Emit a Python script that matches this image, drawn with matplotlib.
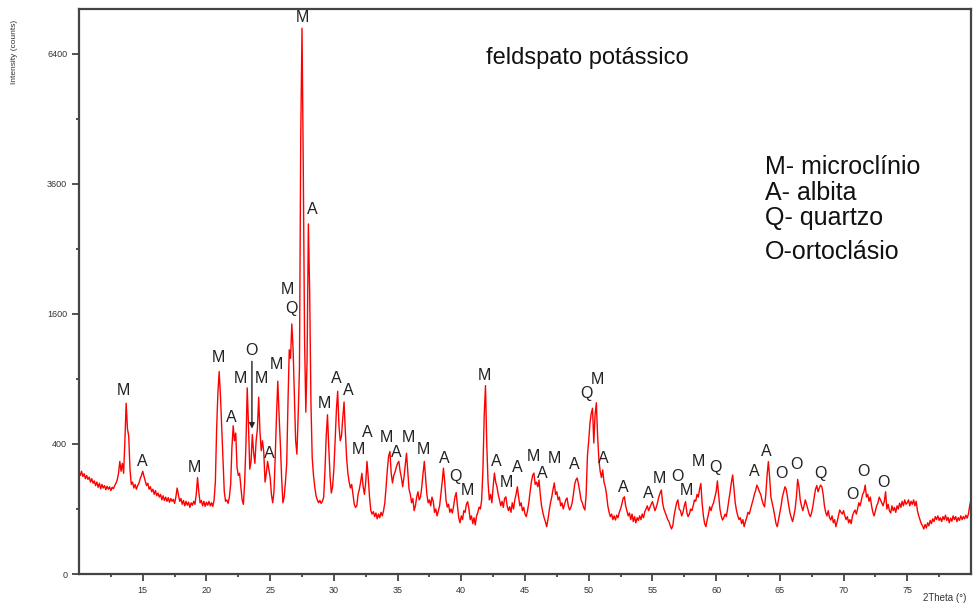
import numpy as np
import matplotlib.pyplot as plt

plt.rcParams['font.family'] = ['Liberation Sans', 'DejaVu Sans']

# diffractogram, 0.1 degree step from 10 to 80 (2theta), counts
counts_10 = [245, 230, 250, 225, 238, 215, 230, 212, 222, 200,
             215, 195, 205, 185, 200, 178, 195, 172, 190, 175,
             185, 168, 182, 170, 180, 165, 178, 172, 185, 195,
             210, 240, 300, 250, 290, 240, 420, 690, 500, 450,
             260, 190, 200, 175, 190, 170, 185, 195, 215, 230,
             250, 225, 205, 185, 195, 170, 180, 160, 170, 150,
             165, 145, 155, 140, 150, 130, 145, 128, 140, 125,
             138, 122, 135, 125, 132, 118, 140, 175, 150, 125,
             135, 115, 128, 110, 125, 112, 122, 105, 120, 112,
             125, 115, 150, 220, 160, 120, 128, 110, 125, 108]
counts_20 = [122, 112, 125, 110, 120, 108, 130, 200, 500, 780,
             970, 750, 500, 300, 160, 125, 130, 118, 140, 190,
             380, 520, 420, 470, 270, 230, 240, 180, 130, 115,
             200, 400, 820, 520, 260, 300, 460, 350, 290, 420,
             500, 740, 480, 360, 420, 350, 200, 240, 300, 260,
             220, 150, 120, 160, 330, 600, 880, 600, 400, 220,
             120, 140, 200, 290, 700, 1190, 1100, 1480, 1200, 750,
             420, 340, 600, 1000, 4500, 7050, 3900, 1300, 620, 1100,
             2900, 1900, 700, 320, 230, 180, 145, 130, 120, 128,
             118, 125, 140, 250, 450, 600, 380, 230, 155, 180]
counts_30 = [260, 420, 640, 790, 520, 420, 450, 580, 700, 480,
             320, 240, 200, 175, 190, 150, 115, 105, 110, 150,
             170, 200, 240, 180, 150, 200, 300, 220, 140, 95,
             85, 92, 78, 88, 72, 85, 75, 90, 80, 95,
             120, 180, 260, 330, 355, 240, 196, 230, 245, 270,
             290, 300, 250, 220, 180, 220, 280, 345, 250, 170,
             150, 120, 135, 95, 110, 140, 160, 130, 140, 180,
             240, 300, 220, 150, 120, 130, 110, 140, 125, 90,
             100, 80, 95, 110, 150, 200, 265, 200, 130, 106,
             115, 90, 100, 88, 110, 140, 157, 110, 75, 62]
counts_40 = [80, 70, 95, 90, 115, 124, 100, 70, 80, 60,
             75, 57, 80, 90, 106, 100, 130, 260, 600, 840,
             400, 200, 130, 150, 120, 180, 241, 200, 180, 150,
             130, 110, 125, 105, 135, 141, 110, 95, 107, 90,
             120, 100, 130, 150, 180, 140, 110, 120, 95, 105,
             85, 78, 95, 120, 160, 200, 230, 241, 190, 200,
             180, 209, 150, 110, 90, 75, 65, 53, 70, 95,
             120, 140, 170, 196, 150, 160, 130, 140, 110, 120,
             100, 115, 130, 137, 110, 97, 105, 120, 150, 190,
             210, 218, 190, 160, 130, 120, 105, 97, 150, 330]
counts_50 = [420, 540, 610, 650, 406, 600, 694, 450, 308, 250,
             220, 256, 200, 180, 150, 110, 90, 78, 85, 70,
             80, 69, 82, 75, 90, 100, 115, 135, 141, 110,
             95, 80, 88, 70, 85, 65, 78, 62, 75, 68,
             80, 70, 85, 75, 92, 100, 110, 95, 105, 115,
             124, 110, 95, 105, 120, 140, 155, 167, 120, 100,
             90, 80, 70, 65, 55, 48, 55, 80, 100, 120,
             130, 100, 95, 80, 90, 110, 124, 90, 78, 85,
             100, 95, 110, 130, 125, 150, 140, 170, 194, 120,
             80, 60, 53, 70, 85, 107, 95, 110, 120, 140]
counts_60 = [160, 205, 150, 100, 80, 69, 75, 85, 78, 100,
             130, 160, 200, 232, 170, 120, 95, 80, 70, 75,
             60, 70, 53, 65, 75, 90, 85, 100, 115, 130,
             150, 165, 187, 175, 160, 150, 130, 115, 107, 150,
             230, 299, 220, 140, 120, 100, 80, 60, 53, 70,
             90, 110, 140, 160, 180, 170, 140, 110, 88, 75,
             65, 80, 100, 140, 212, 180, 130, 110, 95, 110,
             130, 115, 100, 85, 78, 90, 110, 140, 170, 185,
             160, 175, 187, 180, 150, 110, 90, 80, 95, 75,
             69, 80, 62, 70, 53, 65, 80, 97, 90, 85]
counts_70 = [95, 80, 70, 78, 62, 70, 60, 80, 90, 97,
             85, 100, 120, 110, 130, 150, 160, 187, 140, 150,
             125, 140, 110, 90, 80, 95, 110, 120, 140, 130,
             120, 110, 125, 160, 100, 115, 95, 88, 110, 95,
             105, 90, 110, 100, 119, 105, 125, 110, 130, 115,
             120, 130, 110, 125, 115, 130, 110, 125, 95, 80,
             70, 60, 55, 48, 58, 50, 62, 55, 68, 60,
             72, 65, 78, 70, 80, 68, 75, 65, 78, 70,
             82, 68, 76, 62, 74, 66, 80, 70, 78, 65,
             75, 68, 80, 70, 78, 72, 82, 74, 85, 110,
             130]

# phase labels: letter, 2theta, counts at the letter
peak_phase = ['M', 'A', 'M', 'M', 'A', 'M', 'O', 'M', 'A', 'M',
              'M', 'Q', 'M', 'A', 'M', 'A', 'A', 'M', 'A', 'M',
              'A', 'M', 'M', 'A', 'Q', 'M', 'M', 'A', 'M', 'A',
              'M', 'A', 'M', 'A', 'Q', 'M', 'A', 'A', 'A', 'M',
              'O', 'M', 'M', 'Q', 'A', 'A', 'O', 'O', 'Q', 'O',
              'O', 'O']
peak_theta = [13.51, 15.0, 19.09, 20.97, 21.92, 22.63, 23.57, 24.28, 24.91, 25.53,
              26.32, 26.64, 27.5, 28.29, 29.23, 30.17, 31.12, 31.9, 32.6, 34.1,
              34.89, 35.83, 37.01, 38.66, 39.53, 40.47, 41.81, 42.75, 43.54, 44.4,
              45.66, 46.37, 47.31, 48.88, 49.83, 50.69, 51.16, 52.74, 54.7, 55.57,
              56.98, 57.69, 58.63, 59.97, 62.96, 63.9, 65.16, 66.34, 68.15, 70.66,
              71.53, 73.1]
peak_counts = [801, 302, 266, 1114, 583, 909, 1177, 909, 346, 1034,
               1909, 1662, 7317, 3136, 692, 909, 801, 364, 471, 438,
               352, 438, 364, 318, 223, 167, 928, 302, 200, 266,
               324, 237, 318, 286, 767, 891, 313, 179, 155, 218,
               227, 167, 302, 266, 251, 358, 237, 286, 237, 151,
               251, 200]

legend_lines = ['M- microclínio', 'A- albita', 'Q- quartzo', 'O-ortoclásio']

intensity = np.concatenate([counts_10, counts_20, counts_30, counts_40,
                            counts_50, counts_60, counts_70])
two_theta = np.round(10 + 0.1 * np.arange(len(intensity)), 1)

fig = plt.figure(figsize=(9.78, 6.10), dpi=100)
ax = fig.add_axes([0.0808, 0.059, 0.912, 0.926])

# square-root intensity axis
ax.set_yscale('function', functions=(lambda y: np.sqrt(np.clip(y, 0, None)),
                                     lambda y: np.square(y)))
ax.plot(two_theta, intensity, color='#ff0000', lw=1.0)

for lab, tx, ty in zip(peak_phase, peak_theta, peak_counts):
    ax.text(tx, ty, lab, ha='center', va='center', fontsize=11.5, color='#222222')

# arrow under the ortoclasio label
ax.annotate('', xy=(23.57, 500), xytext=(23.57, 1070),
            arrowprops=dict(arrowstyle='-|>', color='#222222', lw=1.0,
                            mutation_scale=8, shrinkA=0, shrinkB=0))

ax.set_xlim(10, 80)
ax.set_ylim(0, 7550)
ax.set_xticks(np.arange(15, 80, 5))
ax.set_xticks(np.arange(12.5, 80, 5), minor=True)
ax.set_yticks([0, 400, 1600, 3600, 6400])
ax.set_yticks([100, 900, 2500, 4900], minor=True)
ax.tick_params(which='major', direction='out', length=5, width=1.3,
               color='#444444', labelsize=6.5, labelcolor='#333333')
ax.tick_params(which='minor', direction='out', length=2.5, width=1.3,
               color='#444444')
for sp in ax.spines.values():
    sp.set_linewidth(1.6)
    sp.set_color('#444444')

fig.text(0.015, 0.915, 'Intensity (counts)', rotation=90, ha='center',
         va='center', fontsize=6, color='#333333')
fig.text(0.966, 0.0197, '2Theta (°)', ha='center', va='center',
         fontsize=7, color='#333333')
fig.text(0.601, 0.905, 'feldspato potássico', ha='center', va='center',
         fontsize=17, color='#111111')
for i, line in enumerate(legend_lines):
    ypos = [0.726, 0.684, 0.643, 0.587][i]
    fig.text(0.782, ypos, line, ha='left', va='center', fontsize=18,
             color='#111111')

fig.savefig('out.png', dpi=100)
